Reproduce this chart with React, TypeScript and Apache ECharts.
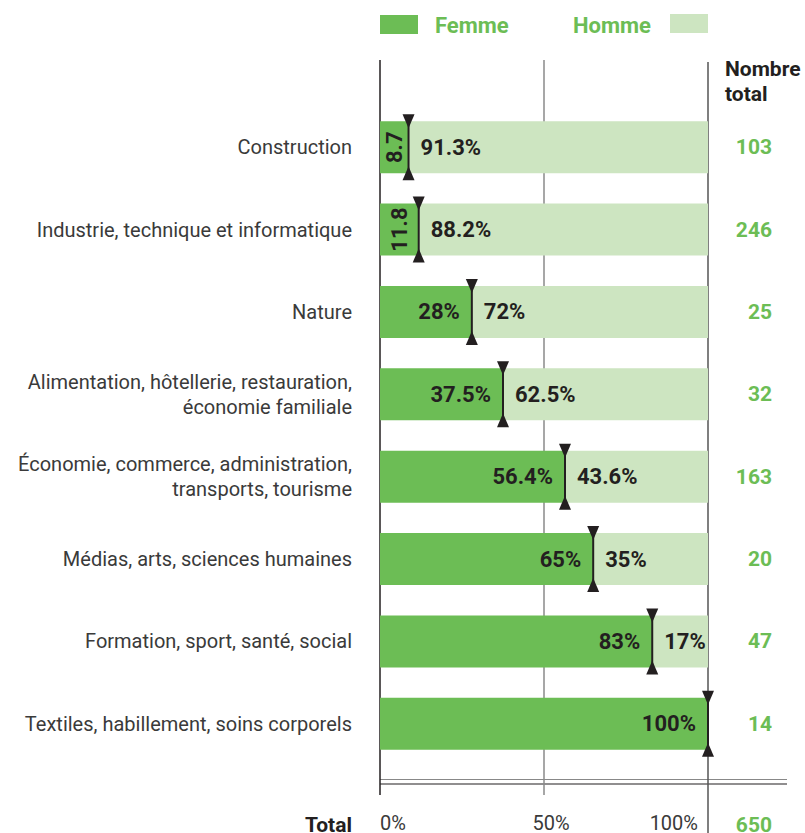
import React, { useEffect, useRef } from "react";
import * as echarts from "echarts";

const categories = [
  "Construction",
  "Industrie, technique et informatique",
  "Nature",
  "Alimentation, hôtellerie, restauration,\néconomie familiale",
  "Économie, commerce, administration,\ntransports, tourisme",
  "Médias, arts, sciences humaines",
  "Formation, sport, santé, social",
  "Textiles, habillement, soins corporels",
];
const femme = [8.7, 11.8, 28, 37.5, 56.4, 65, 83, 100];
const homme = [91.3, 88.2, 72, 62.5, 43.6, 35, 17, 0];
const totals = [103, 246, 25, 32, 163, 20, 47, 14];
const grandTotal = 650;
const xTicks = [0, 50, 100];

const GREEN = "#6cbd55";
const LIGHT = "#cde5c1";
const DARK = "#231f20";
const FONT = "Roboto, 'Liberation Sans', sans-serif";

export default function App() {
  const ref = useRef<HTMLDivElement>(null);
  useEffect(() => {
    if (!ref.current) return;
    const chart = echarts.init(ref.current, null, { renderer: "svg" });
    const labelBold = { color: DARK, fontWeight: "bold", fontSize: 22, fontFamily: FONT };
    const option: any = {
      animation: false,
      textStyle: { fontFamily: FONT },
      grid: { left: 380, right: 97, top: 106, height: 659, containLabel: false },
      xAxis: {
        type: "value",
        min: 0,
        max: 100,
        interval: 50,
        axisLine: { show: false },
        axisTick: { show: false },
        splitLine: { show: false },
        axisLabel: {
          margin: 48,
          fontSize: 20,
          color: "#3a3a3a",
          fontFamily: FONT,
          alignMinLabel: "left",
          alignMaxLabel: "right",
          formatter: (v: number) => (v === 50 ? "{m|50%}" : v === 100 ? "{r|100%}" : v + "%"),
          rich: {
            m: { fontSize: 20, color: "#3a3a3a", fontFamily: FONT, padding: [0, 0, 0, 14] },
            r: { fontSize: 20, color: "#3a3a3a", fontFamily: FONT, padding: [0, 10, 0, 0] },
          },
        },
      },
      yAxis: [
        {
          type: "category",
          inverse: true,
          data: categories,
          axisLine: { show: false },
          axisTick: { show: false },
          axisLabel: {
            margin: 28,
            fontSize: 20,
            color: "#3a3a3a",
            fontFamily: FONT,
            lineHeight: 25,
            align: "right",
          },
        },
        {
          type: "category",
          inverse: true,
          position: "right",
          data: totals.map(String),
          axisLine: { show: false },
          axisTick: { show: false },
          axisLabel: {
            margin: 64,
            align: "right",
            fontSize: 21,
            fontWeight: "bold",
            color: GREEN,
            fontFamily: FONT,
          },
        },
      ],
      series: [
        {
          name: "Femme",
          type: "bar",
          stack: "t",
          barWidth: 52,
          itemStyle: { color: GREEN },
          data: femme.map((v) =>
            v < 20
              ? {
                  value: v,
                  label: { show: true, position: "inside", rotate: 90, formatter: String(v), ...labelBold },
                }
              : {
                  value: v,
                  label: { show: true, position: "insideRight", distance: 12, formatter: v + "%", ...labelBold },
                }
          ),
        },
        {
          name: "Homme",
          type: "bar",
          stack: "t",
          barWidth: 52,
          itemStyle: { color: LIGHT },
          data: homme.map((v) => ({
            value: v,
            label: { show: v > 0, position: "insideLeft", distance: 12, formatter: v + "%", ...labelBold },
          })),
        },
        {
          type: "custom",
          z: 10,
          data: femme.map((v, i) => [v, i]),
          renderItem: (params: any, api: any) => {
            const p = api.coord([api.value(0), api.value(1)]);
            const x = p[0];
            const y = p[1];
            return {
              type: "group",
              children: [
                { type: "line", shape: { x1: x, y1: y - 28, x2: x, y2: y + 28 }, style: { stroke: DARK, lineWidth: 2 } },
                { type: "polygon", shape: { points: [[x - 6, y - 33], [x + 6, y - 33], [x, y - 19]] }, style: { fill: DARK } },
                { type: "polygon", shape: { points: [[x - 6, y + 33], [x + 6, y + 33], [x, y + 19]] }, style: { fill: DARK } },
              ],
            };
          },
        },
      ],
    };
    chart.setOption(option);
    const px = (v: number) => chart.convertToPixel({ xAxisIndex: 0 }, v) as number;
    const x0 = px(xTicks[0]);
    const x50 = px(xTicks[1]);
    const x100 = px(xTicks[2]);
    chart.setOption({
      graphic: [
        { type: "line", z: 1, shape: { x1: x0, y1: 60, x2: x0, y2: 795 }, style: { stroke: DARK, lineWidth: 1.5 } },
        { type: "line", z: 1, shape: { x1: x50, y1: 60, x2: x50, y2: 795 }, style: { stroke: "#8a8a8a", lineWidth: 1.5 } },
        { type: "line", z: 1, shape: { x1: x100, y1: 62, x2: x100, y2: 833 }, style: { stroke: "#555", lineWidth: 1.5 } },
        { type: "line", shape: { x1: x0, y1: 779.5, x2: 787, y2: 779.5 }, style: { stroke: "#888", lineWidth: 1 } },
        { type: "line", shape: { x1: x0, y1: 784, x2: 787, y2: 784 }, style: { stroke: DARK, lineWidth: 1.2 } },
        { type: "rect", shape: { x: x0, y: 15, width: 38, height: 19 }, style: { fill: GREEN } },
        { type: "text", x: 435, y: 25, style: { text: "Femme", fill: GREEN, font: `bold 22px ${FONT}`, verticalAlign: "middle" } },
        { type: "text", x: 651, y: 25, style: { text: "Homme", fill: GREEN, font: `bold 22px ${FONT}`, verticalAlign: "middle", align: "right" } },
        { type: "rect", shape: { x: 670, y: 14, width: 38, height: 19 }, style: { fill: LIGHT } },
        { type: "text", x: 725, y: 56, style: { text: "Nombre\ntotal", fill: DARK, font: `bold 21px ${FONT}`, lineHeight: 25, verticalAlign: "top" } },
        { type: "text", x: 352, y: 825, style: { text: "Total", fill: DARK, font: `bold 21px ${FONT}`, align: "right", verticalAlign: "middle" } },
        { type: "text", x: 772, y: 825, style: { text: String(grandTotal), fill: GREEN, font: `bold 21px ${FONT}`, align: "right", verticalAlign: "middle" } },
      ],
    });
    return () => chart.dispose();
  }, []);
  return <div ref={ref} style={{ position: "absolute", left: 0, top: 0, width: 805, height: 833 }} />;
}
